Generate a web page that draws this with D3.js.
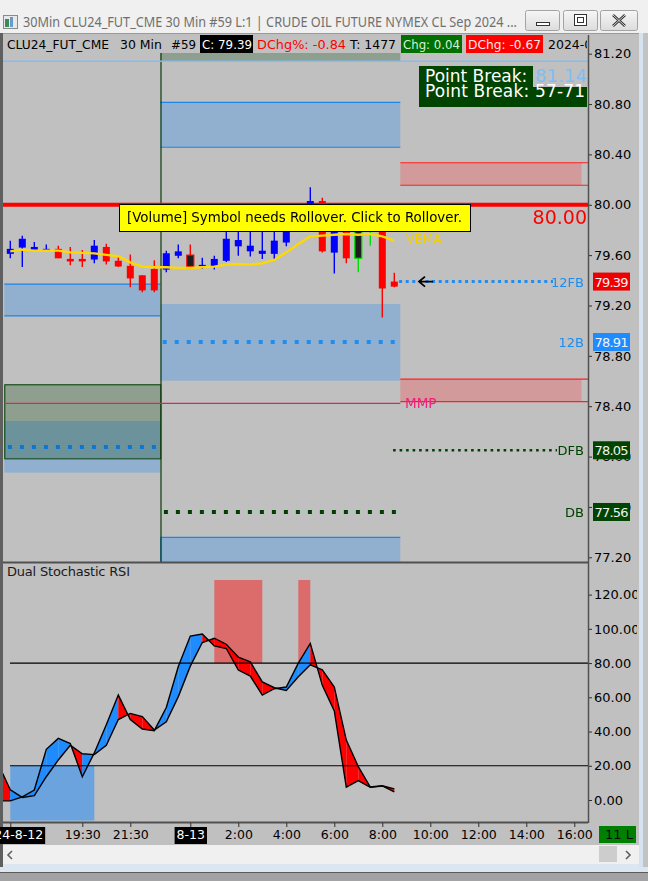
<!DOCTYPE html>
<html>
<head>
<meta charset="utf-8">
<script src="https://cdn.jsdelivr.net/npm/d3@7"></script>
<style>
  html, body { margin: 0; padding: 0; background: #a3a3a3; overflow: hidden; }
  svg { display: block; font-family: "DejaVu Sans", sans-serif; }
</style>
</head>
<body>
<svg id="chart" width="648" height="881"></svg>
<script>
// ---- data ----
const barOpen  = [79.61, 79.66, 79.64, 79.645, 79.65, 79.57, 79.57, 79.565, 79.665, 79.555, 79.515, 79.44, 79.49,
                  79.485, 79.595, 79.60, 79.51, 79.51, 79.555, 79.67, 79.63, 79.61, 79.61, 79.70, 79.82, 79.88,
                  80.03, 79.62, 79.92, 79.575, 79.80, 79.86, 79.39];
const barHigh  = [79.715, 79.755, 79.705, 79.685, 79.675, 79.665, 79.64, 79.72, 79.69, 79.60, 79.605, 79.44, 79.56,
                  79.635, 79.685, 79.685, 79.58, 79.595, 79.82, 79.84, 79.82, 79.85, 79.86, 79.92, 79.93, 80.14,
                  80.055, 79.98, 79.96, 79.86, 79.90, 79.88, 79.46];
const barLow   = [79.575, 79.505, 79.64, 79.64, 79.575, 79.52, 79.505, 79.535, 79.525, 79.505, 79.345, 79.305, 79.305,
                  79.465, 79.575, 79.51, 79.49, 79.485, 79.545, 79.595, 79.59, 79.57, 79.57, 79.67, 79.79, 79.86,
                  79.62, 79.455, 79.535, 79.465, 79.675, 79.105, 79.345];
const barClose = [79.65, 79.73, 79.665, 79.65, 79.575, 79.55, 79.55, 79.675, 79.55, 79.51, 79.415, 79.32, 79.32,
                  79.615, 79.63, 79.51, 79.523, 79.57, 79.73, 79.72, 79.675, 79.635, 79.715, 79.88, 79.90, 80.03,
                  79.63, 79.95, 79.575, 79.82, 79.85, 79.335, 79.35];
const signalBars = [15, 29, 30];

const vema = [79.630, 79.644, 79.636, 79.636, 79.636, 79.622, 79.618, 79.614, 79.602, 79.591, 79.543, 79.509, 79.504,
              79.504, 79.499, 79.499, 79.504, 79.509, 79.525, 79.530, 79.525, 79.535, 79.562, 79.622, 79.689, 79.749,
              79.755, 79.762, 79.768, 79.762, 79.768, 79.749, 79.715];

// stochastic RSI, first value belongs to bar -1
const stochStart = -1;
const stochFast = [-0.5, -0.5, 1.8, 5.8, 29.6, 36, 33, 13.6, 27.5, 44, 61.3, 47, 41.5, 40.5, 54, 78, 95.8, 97, 90, 88.5,
                   75.9, 72.4, 61.3, 65.0, 66, 80, 91.5, 67, 52, 7.5, 11.3, 7.4, 8.2, 4.8];
const stochSlow = [21, 6, 1.5, 2.5, 13.6, 23.4, 32, 27, 26.5, 32, 47, 50.6, 48.7, 40.9, 45.7, 60.4, 78.2, 92, 94.5, 91,
                   83.5, 80.7, 69, 65.6, 64, 72, 79, 76, 66, 35, 19.5, 7.6, 8.3, 6.5];
const overboughtBars = [[17, 21], [24, 25]];
const oversoldBars = [[0, 7]];

// zones: [fromBar, toBar, topPrice, bottomPrice]
const blueZonesLined = [[-0.5, 12.5, 79.369, 79.117], [12.5, 32.5, 80.814, 80.457]];
const blueZonesPlain = [[-0.5, 12.5, 78.283, 77.872], [12.5, 32.5, 79.212, 78.603]];
const blueZoneOpen = [12.5, 32.5, 77.359, 76.9];
const greenZones = [[-0.5, 12.5, 78.574, 77.986], [12.5, 32.5, 81.5, 81.137]];
const pinkZones = [[32.5, 47.6, 80.334, 80.155], [32.5, 47.6, 78.616, 78.436]];

const pointBreak = 81.14;
const roundLevel = 80.00;
const mmpLevel = 78.423;
const priorDfb = 78.076;
const markerNames = ["12FB", "12B", "DFB", "DB"];
const markerPrices = [79.39, 78.91, 78.05, 77.56];

const priceTicks = [81.2, 80.8, 80.4, 80.0, 79.6, 79.2, 78.8, 78.4, 78.0, 77.6, 77.2];
const stochTicks = [120, 100, 80, 60, 40, 20, 0];
const timeTickBars = [0, 6, 10, 15, 19, 23, 27, 31, 35, 39, 43, 47];
const timeTickLabels = ["2024-8-12", "19:30", "21:30", "8-13", "2:00", "4:00", "6:00", "8:00", "10:00", "12:00", "14:00", "16:00"];
const dateTicks = ["2024-8-12", "8-13"];

// ---- layout ----
const W = 648, H = 881;
const axisX = 588;
const svg = d3.select("#chart");
const defs = svg.append("defs");

const x = d3.scaleLinear().domain([0, 47]).range([10.3, 574.3]);
const yP = d3.scaleLinear().domain([77.2, 81.2]).range([557.3, 53.7]);
const yS = d3.scaleLinear().domain([0, 120]).range([800, 594.6]);

// clip rects are in the local space of the element that uses them
function clip(id, x0, y0, w, h) {
  defs.append("clipPath").attr("id", id).append("rect").attr("x", x0).attr("y", y0).attr("width", w).attr("height", h);
  return "url(#" + id + ")";
}

// window frame
svg.append("rect").attr("width", W).attr("height", 872).attr("fill", "#f0f0f0");
svg.append("rect").attr("x", 0).attr("y", 872).attr("width", W).attr("height", 1).attr("fill", "#5a5a5a");
svg.append("rect").attr("x", 0).attr("y", 864).attr("width", W).attr("height", 8).attr("fill", "#dbe6f1");
svg.append("rect").attr("x", 639).attr("y", 33).attr("width", 4).attr("height", 834).attr("fill", "#d5e3f1");
svg.append("rect").attr("x", 643).attr("y", 33).attr("width", 5).attr("height", 834).attr("fill", "#c2c2c2");
svg.append("rect").attr("x", 0).attr("y", 33).attr("width", 3).attr("height", 834).attr("fill", "#5f5f5f");

// title bar
const icon = svg.append("g");
icon.append("rect").attr("x", 3.5).attr("y", 15.5).attr("width", 14).attr("height", 13).attr("fill", "#e8e8e8").attr("stroke", "#8a8a8a");
icon.append("rect").attr("x", 5).attr("y", 19).attr("width", 4).attr("height", 8).attr("fill", "#3a8a5a");
icon.append("rect").attr("x", 10).attr("y", 17).attr("width", 3).attr("height", 10).attr("fill", "#6a9ac8");
svg.append("text").attr("x", 23).attr("y", 27).attr("font-family", "Noto Sans, sans-serif").attr("font-size", 14)
  .attr("fill", "#6f6f6f").attr("textLength", 494).attr("lengthAdjust", "spacingAndGlyphs")
  .text("30Min CLU24_FUT_CME  30 Min  #59 L:1 | CRUDE OIL FUTURE NYMEX CL Sep 2024 ...");
const btnGrad = defs.append("linearGradient").attr("id", "btng").attr("x1", 0).attr("x2", 0).attr("y1", 0).attr("y2", 1);
btnGrad.append("stop").attr("offset", 0).attr("stop-color", "#f6f6f6");
btnGrad.append("stop").attr("offset", 1).attr("stop-color", "#dcdcdc");
[[525, 34], [563, 34], [600, 37]].forEach(([bx, bw]) => {
  svg.append("rect").attr("x", bx + 0.5).attr("y", 10.5).attr("width", bw).attr("height", 20).attr("rx", 2)
    .attr("fill", "url(#btng)").attr("stroke", "#a3a3a3");
});
svg.append("rect").attr("x", 536.5).attr("y", 22.5).attr("width", 13).attr("height", 3).attr("fill", "#fff").attr("stroke", "#333");
svg.append("rect").attr("x", 574.5).attr("y", 14.5).attr("width", 12).attr("height", 11).attr("fill", "#fff").attr("stroke", "#333");
svg.append("rect").attr("x", 577.5).attr("y", 17.5).attr("width", 6).attr("height", 5).attr("fill", "none").attr("stroke", "#333");
svg.append("path").attr("d", "M613,15 L625,26 M625,15 L613,26").attr("stroke", "#333").attr("stroke-width", 2.6);
svg.append("path").attr("d", "M613,15 L625,26 M625,15 L613,26").attr("stroke", "#fff").attr("stroke-width", 0.8);

// chart background
svg.append("rect").attr("x", 3).attr("y", 34).attr("width", 636).attr("height", 811).attr("fill", "#c0c0c0");
svg.append("rect").attr("x", 3).attr("y", 33).attr("width", 636).attr("height", 1).attr("fill", "#9a9a9a");

// ---- price panel ----
const price = svg.append("g").attr("clip-path", clip("pclip", 3, 35, axisX - 3, 527));
price.append("rect").attr("x", 3).attr("y", 35).attr("width", axisX - 3).attr("height", 527).attr("fill", "#c0c0c0");

const zoneRect = (g, data, fill) => g.selectAll(null).data(data).join("rect")
  .attr("x", d => x(d[0])).attr("width", d => x(d[1]) - x(d[0]))
  .attr("y", d => yP(d[2])).attr("height", d => yP(d[3]) - yP(d[2]))
  .attr("fill", fill);

zoneRect(price, blueZonesLined.concat(blueZonesPlain, [blueZoneOpen]), "#91b0d0");
zoneRect(price, greenZones, "#bed4be").style("mix-blend-mode", "multiply");
price.append("rect").attr("x", x(greenZones[0][0]) + 0.5).attr("y", yP(greenZones[0][2]) + 0.5)
  .attr("width", x(greenZones[0][1]) - x(greenZones[0][0])).attr("height", yP(greenZones[0][3]) - yP(greenZones[0][2]))
  .attr("fill", "none").attr("stroke", "#003f00");
zoneRect(price, pinkZones, "#d29a9a");

// zone border lines
blueZonesLined.forEach(d => {
  [d[2], d[3]].forEach(p => price.append("line").attr("x1", x(d[0])).attr("x2", x(d[1]))
    .attr("y1", yP(p)).attr("y2", yP(p)).attr("stroke", "#1e84e8").attr("stroke-width", 1.2));
});
price.append("path")
  .attr("d", `M${x(blueZoneOpen[0]) + 0.5},${yP(blueZoneOpen[3])} V${yP(blueZoneOpen[2])} H${x(blueZoneOpen[1])}`)
  .attr("fill", "none").attr("stroke", "#1e84e8").attr("stroke-width", 1.2);
pinkZones.forEach(d => {
  [d[2], d[3]].forEach(p => price.append("line").attr("x1", x(d[0])).attr("x2", axisX)
    .attr("y1", yP(p)).attr("y2", yP(p)).attr("stroke", "#ff2020").attr("stroke-width", 1.2));
});

// session divider
price.append("line").attr("x1", x(12.5) + 0.7).attr("x2", x(12.5) + 0.7).attr("y1", 35).attr("y2", 562)
  .attr("stroke", "#0b3a0b").attr("stroke-width", 1.2);

// level lines
price.append("line").attr("x1", 3).attr("x2", axisX).attr("y1", yP(pointBreak)).attr("y2", yP(pointBreak))
  .attr("stroke", "#7fbdf5").attr("stroke-width", 1.5);
price.append("line").attr("x1", 3).attr("x2", axisX).attr("y1", yP(roundLevel)).attr("y2", yP(roundLevel))
  .attr("stroke", "#ff0000").attr("stroke-width", 4);
price.append("line").attr("x1", x(-0.5)).attr("x2", x(32.5)).attr("y1", yP(mmpLevel)).attr("y2", yP(mmpLevel))
  .attr("stroke", "#e0206e").attr("stroke-width", 1.2);

// dotted levels
const dotted = (x1, x2, p, color, size, gap) => price.append("line")
  .attr("x1", x1).attr("x2", x2).attr("y1", yP(p)).attr("y2", yP(p))
  .attr("stroke", color).attr("stroke-width", size).attr("stroke-dasharray", size + "," + gap);
dotted(x(-0.2), x(12.2), priorDfb, "#0a78d2", 4, 8);
dotted(x(32.4), 553, markerPrices[0], "#1e8cf0", 3, 3.6);
dotted(x(12.7), x(32.5), markerPrices[1], "#1e8cf0", 4, 8);
dotted(x(31.9), 557, markerPrices[2], "#004000", 2.6, 3.9);
dotted(x(12.8), x(32.5), markerPrices[3], "#004000", 4, 8);

// candles
const bars = d3.range(barOpen.length);
const isUp = i => barClose[i] >= barOpen[i];
const edgeColor = i => signalBars.includes(i) ? (isUp(i) ? "#00e000" : "#ff0000") : (isUp(i) ? "#0000ff" : "#ff0000");
const candles = price.append("g");
candles.selectAll("line").data(bars).join("line")
  .attr("x1", i => x(i)).attr("x2", i => x(i))
  .attr("y1", i => yP(barHigh[i])).attr("y2", i => yP(barLow[i]))
  .attr("stroke", edgeColor).attr("stroke-width", 1.4);
candles.selectAll("rect").data(bars).join("rect")
  .attr("x", i => x(i) - 3.5).attr("width", 7)
  .attr("y", i => yP(Math.max(barOpen[i], barClose[i])))
  .attr("height", i => Math.max(1.5, Math.abs(yP(barOpen[i]) - yP(barClose[i]))))
  .attr("fill", i => signalBars.includes(i) ? "#1e1e1e" : edgeColor(i))
  .attr("stroke", i => signalBars.includes(i) ? edgeColor(i) : "none").attr("stroke-width", 1.2);

// VEMA
price.append("path").datum(bars)
  .attr("d", d3.line().x(i => x(i)).y(i => yP(vema[i])))
  .attr("fill", "none").attr("stroke", "#ffd800").attr("stroke-width", 2.4);
price.append("text").attr("x", 406).attr("y", 243).attr("font-size", 12.5).attr("fill", "#f2d000").text("VEMA");

// labels on the right side of the price panel
price.append("text").attr("x", 587).attr("y", 224).attr("text-anchor", "end").attr("font-size", 19)
  .attr("fill", "#ff0000").text(roundLevel.toFixed(2));
price.append("text").attr("x", 405).attr("y", 408).attr("font-size", 13.5).attr("fill", "#f0207a").text("MMP");
const markerColors = ["#1e8cf0", "#1e8cf0", "#004000", "#004000"];
markerNames.forEach((n, k) => price.append("text").attr("x", 584).attr("y", yP(markerPrices[k]) + 5)
  .attr("text-anchor", "end").attr("font-size", 13).attr("fill", markerColors[k]).text(n));
price.append("path").attr("d", `M433,${yP(markerPrices[0])} H419 M425,${yP(markerPrices[0]) - 5} L419,${yP(markerPrices[0])} L425,${yP(markerPrices[0]) + 5}`)
  .attr("fill", "none").attr("stroke", "#000").attr("stroke-width", 1.8);

// rollover notice
price.append("rect").attr("x", 119.5).attr("y", 204.5).attr("width", 351).attr("height", 27)
  .attr("fill", "#ffff00").attr("stroke", "#000");
price.append("text").attr("x", 127).attr("y", 222).attr("font-size", 13.5).attr("fill", "#000")
  .attr("textLength", 335).attr("lengthAdjust", "spacingAndGlyphs")
  .text("[Volume] Symbol needs Rollover. Click to Rollover.");

// point break box
const pb = svg.append("g").attr("clip-path", clip("pbclip", 419, 66, 168, 41));
pb.append("rect").attr("x", 419).attr("y", 66).attr("width", 168).attr("height", 41).attr("fill", "#004400");
pb.append("text").attr("x", 425).attr("y", 82).attr("font-size", 17).attr("fill", "#fff").text("Point Break: ");
pb.append("rect").attr("x", 533).attr("y", 66).attr("width", 54).attr("height", 21).attr("fill", "#c0c0c0");
pb.append("text").attr("x", 535).attr("y", 82).attr("font-size", 18).attr("fill", "#7fbdf5")
  .attr("textLength", 52).text(pointBreak.toFixed(2));
pb.append("text").attr("x", 425).attr("y", 97).attr("font-size", 17).attr("fill", "#fff")
  .attr("textLength", 160).text("Point Break: 57-71");

// ---- stochastic panel ----
const stoch = svg.append("g").attr("clip-path", clip("sclip", 3, 563, axisX - 3, 259));
const zoneS = (data, top, bottom, fill) => stoch.selectAll(null).data(data).join("rect")
  .attr("x", d => x(d[0])).attr("width", d => x(d[1]) - x(d[0]))
  .attr("y", yS(top)).attr("height", yS(bottom) - yS(top)).attr("fill", fill);
zoneS(overboughtBars, 128.5, 80, "#dc6b6b");
zoneS(oversoldBars, 20, -12, "#6aa3de");

const sIdx = d3.range(stochFast.length);
const sx = k => x(k + stochStart);
stoch.selectAll("path.seg").data(sIdx.slice(0, -1)).join("path")
  .attr("d", k => `M${sx(k)},${yS(stochFast[k])} L${sx(k + 1)},${yS(stochFast[k + 1])} L${sx(k + 1)},${yS(stochSlow[k + 1])} L${sx(k)},${yS(stochSlow[k])}Z`)
  .attr("fill", k => stochFast[k + 1] >= stochSlow[k + 1] ? "#1e8cff" : "#ff0000");
[stochFast, stochSlow].forEach(series => stoch.append("path").datum(sIdx)
  .attr("d", d3.line().x(sx).y(k => yS(series[k])))
  .attr("fill", "none").attr("stroke", "#000").attr("stroke-width", 1.4));
[80, 20].forEach(v => stoch.append("line").attr("x1", 10).attr("x2", axisX).attr("y1", yS(v)).attr("y2", yS(v))
  .attr("stroke", "#000").attr("stroke-width", 1.2));
svg.append("text").attr("x", 7).attr("y", 576).attr("font-size", 13).attr("fill", "#1a1a1a")
  .attr("textLength", 123).text("Dual Stochastic RSI");

// panel borders
[562.5, 822.5].forEach(yy => svg.append("line").attr("x1", 3).attr("x2", axisX).attr("y1", yy).attr("y2", yy)
  .attr("stroke", "#505050").attr("stroke-width", 2));
svg.append("line").attr("x1", axisX + 0.5).attr("x2", axisX + 0.5).attr("y1", 35).attr("y2", 823)
  .attr("stroke", "#505050").attr("stroke-width", 1.5);

// ---- axes ----
const pAxis = svg.append("g").attr("transform", `translate(${axisX},0)`).attr("clip-path", clip("paclip", 1, 35, 48, 527))
  .call(d3.axisRight(yP).tickValues(priceTicks).tickSize(4).tickPadding(2).tickFormat(d3.format(".2f")));
const sAxis = svg.append("g").attr("transform", `translate(${axisX},0)`).attr("clip-path", clip("saclip", 1, 563, 48, 259))
  .call(d3.axisRight(yS).tickValues(stochTicks).tickSize(4).tickPadding(2).tickFormat(d3.format(".2f")));
[pAxis, sAxis].forEach(a => {
  a.select(".domain").remove();
  a.selectAll("line").attr("stroke", "#303030");
  a.selectAll("text").attr("font-family", "DejaVu Sans").attr("font-size", 13).attr("fill", "#000");
});

// price markers on the axis
const markerFill = ["#ee0000", "#1e8cff", "#004400", "#004400"];
markerPrices.forEach((p, k) => {
  svg.append("rect").attr("x", 593).attr("y", yP(p) - 9).attr("width", 37).attr("height", 18).attr("fill", markerFill[k]);
  svg.append("text").attr("x", 594.5).attr("y", yP(p) + 5).attr("font-size", 13).attr("fill", "#f2f2f2")
    .attr("textLength", 34).text(p.toFixed(2));
});

// time axis
const tAxis = svg.append("g").attr("transform", "translate(0,823)")
  .attr("clip-path", clip("tclip", 0, 0, 598, 22))
  .call(d3.axisBottom(x).tickValues(timeTickBars).tickSize(4).tickPadding(3).tickFormat((d, i) => timeTickLabels[i]));
tAxis.select(".domain").remove();
tAxis.selectAll("line").attr("stroke", "#303030");
tAxis.selectAll("text").attr("font-family", "DejaVu Sans").attr("font-size", 12.5).attr("fill", "#000");
tAxis.selectAll(".tick").each(function (d, i) {
  if (!dateTicks.includes(timeTickLabels[i])) return;
  const t = d3.select(this).select("text").attr("fill", "#fff");
  const b = t.node().getBBox();
  d3.select(this).insert("rect", "text").attr("x", b.x - 2).attr("y", 4).attr("width", b.width + 4).attr("height", 17)
    .attr("fill", "#000");
});
svg.append("rect").attr("x", 599).attr("y", 826).attr("width", 37).attr("height", 17).attr("fill", "#008000");
svg.append("text").attr("x", 605).attr("y", 839).attr("font-size", 13).attr("fill", "#0a0a0a").text("11 L");

// scrollbar
svg.append("rect").attr("x", 3).attr("y", 845).attr("width", 636).attr("height", 19).attr("fill", "#f0f0f0");
svg.append("rect").attr("x", 599).attr("y", 846).attr("width", 18).attr("height", 16).attr("fill", "#cdcdcd");
svg.append("path").attr("d", "M12,851 L8,855 L12,859").attr("fill", "none").attr("stroke", "#606060").attr("stroke-width", 1.6);
svg.append("path").attr("d", "M626,851 L630,855 L626,859").attr("fill", "none").attr("stroke", "#606060").attr("stroke-width", 1.6);

// ---- header row ----
const hdr = svg.append("g").attr("clip-path", clip("hclip", 3, 35, 584, 18)).attr("font-size", 12.5);
hdr.append("rect").attr("x", 3).attr("y", 35).attr("width", 585).attr("height", 18).attr("fill", "#c0c0c0");
const hText = (x0, w, txt, fill) => hdr.append("text").attr("x", x0).attr("y", 48.5).attr("fill", fill)
  .attr("textLength", w).attr("lengthAdjust", "spacingAndGlyphs").text(txt);
hdr.append("rect").attr("x", 200).attr("y", 35).attr("width", 53).attr("height", 18).attr("fill", "#000");
hdr.append("rect").attr("x", 401).attr("y", 35).attr("width", 61).attr("height", 18).attr("fill", "#007000");
hdr.append("rect").attr("x", 466).attr("y", 35).attr("width", 77).attr("height", 18).attr("fill", "#ff0000");
hText(7, 102, "CLU24_FUT_CME", "#000");
hText(120, 42, "30 Min", "#000");
hText(171, 25, "#59", "#000");
hText(202, 50, "C: 79.39", "#fff");
hText(257, 89, "DChg%: -0.84", "#ff0000");
hText(350, 46, "T: 1477", "#000");
hText(403, 57, "Chg: 0.04", "#d8f0d8");
hText(468, 73, "DChg: -0.67", "#ffe8e8");
hdr.append("text").attr("x", 548).attr("y", 48.5).attr("fill", "#000").text("2024-08-13");
</script>
</body>
</html>
